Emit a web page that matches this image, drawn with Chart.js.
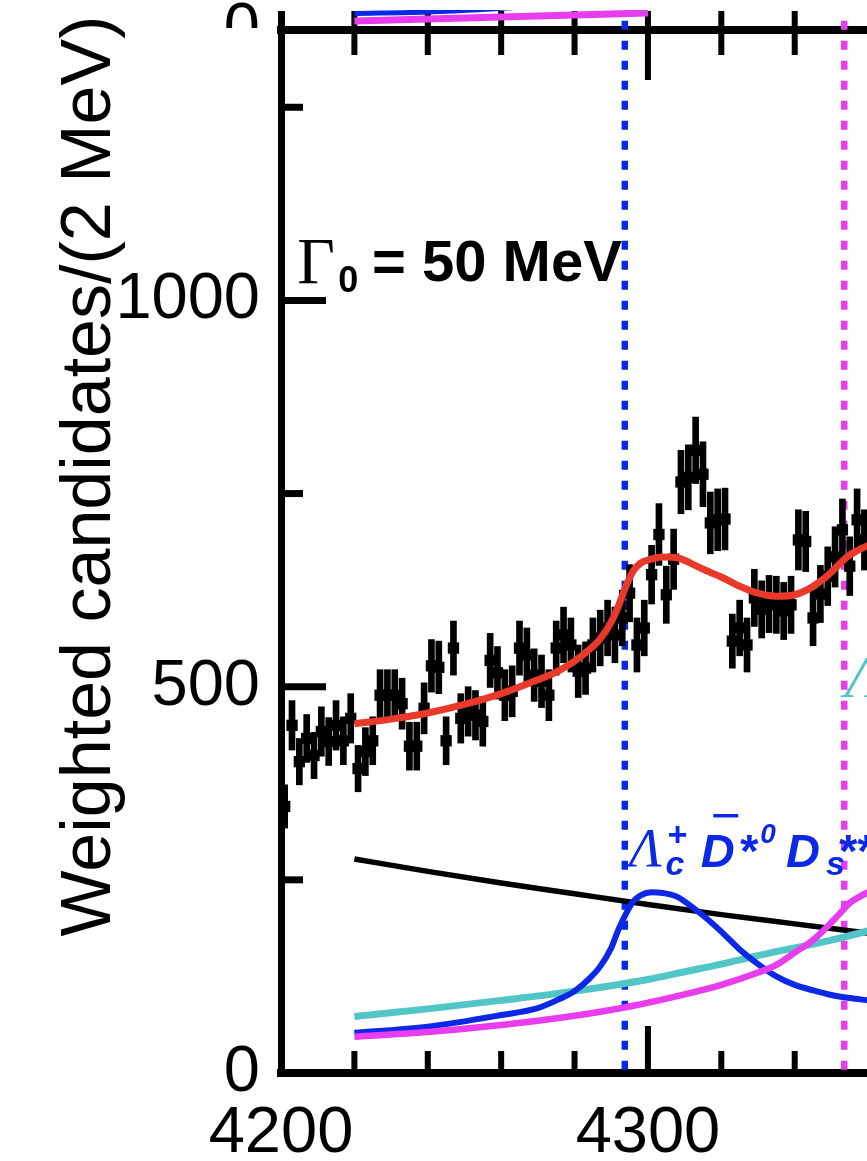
<!DOCTYPE html>
<html>
<head>
<meta charset="utf-8">
<script src="https://cdn.jsdelivr.net/npm/chart.js@4.4.1/dist/chart.umd.min.js"></script>
<style>
  html, body { margin: 0; padding: 0; background: #fff; }
  #wrap { position: relative; width: 867px; height: 1161px; overflow: hidden; }
  #main { position: absolute; left: 0; top: 0; }
  #strip { position: absolute; left: 0; top: 0; width: 867px; height: 28px; overflow: hidden; z-index: 2; }
</style>
</head>
<body>
<div id="wrap">
  <canvas id="main" width="867" height="1161"></canvas>
  <div id="strip"><canvas id="upper" width="867" height="60"></canvas></div>
</div>
<script>
// === Data: weighted candidates per 2 MeV bin ===
const binCenters = [
  4201, 4203, 4205, 4207, 4209, 4211, 4213, 4215, 4217, 4219,
  4221, 4223, 4225, 4227, 4229, 4231, 4233, 4235, 4237, 4239,
  4241, 4243, 4245, 4247, 4249, 4251, 4253, 4255, 4257, 4259,
  4261, 4263, 4265, 4267, 4269, 4271, 4273, 4275, 4277, 4279,
  4281, 4283, 4285, 4287, 4289, 4291, 4293, 4295, 4297, 4299,
  4301, 4303, 4305, 4307, 4309, 4311, 4313, 4315, 4317, 4319,
  4321, 4323, 4325, 4327, 4329, 4331, 4333, 4335, 4337, 4339,
  4341, 4343, 4345, 4347, 4349, 4351, 4353, 4355, 4357, 4359
];
const candidates = [
  345, 450, 403, 433, 411, 442, 429, 450, 430, 459,
  394, 416, 430, 489, 489, 489, 478, 423, 423, 472,
  527, 525, 430, 550, 459, 468, 463, 455, 534, 518,
  489, 494, 550, 541, 515, 507, 489, 550, 567, 554,
  520, 524, 554, 563, 576, 567, 589, 621, 554, 576,
  645, 697, 619, 665, 765, 771, 806, 775, 712, 716,
  717, 559, 576, 554, 615, 600, 607, 606, 598, 606,
  690, 688, 589, 620, 643, 668, 703, 656, 716, 690
];
const errors = [
  28, 32, 30, 31, 30, 32, 31, 32, 31, 32,
  30, 31, 31, 33, 33, 33, 33, 31, 31, 33,
  34, 34, 31, 35, 32, 32, 32, 32, 35, 34,
  33, 33, 35, 35, 34, 34, 33, 35, 36, 35,
  34, 34, 35, 36, 36, 36, 36, 37, 35, 36,
  38, 40, 37, 39, 41, 42, 43, 42, 40, 40,
  40, 35, 36, 35, 37, 37, 37, 37, 37, 37,
  39, 39, 36, 37, 38, 39, 40, 38, 40, 39
];

// axis ticks
const massTicks = [4200, 4220, 4240, 4260, 4280, 4300, 4320, 4340];
const massLabels = [4200, 4300];
const countTicks = [0, 250, 500, 750, 1000, 1250];
const countLabels = [0, 500, 1000];

// === Fit curves ===
const totalMass = [4220, 4230, 4240, 4250, 4260, 4270, 4275, 4280, 4284, 4287, 4290, 4292, 4294, 4296, 4298, 4300, 4304, 4308, 4312, 4316, 4320, 4325, 4330, 4335, 4340, 4344, 4348, 4351, 4354, 4357, 4360];
const totalFit  = [452, 458, 466, 477, 491, 509, 519, 533, 548, 562, 584, 605, 630, 650, 660, 664, 668, 667, 659, 650, 642, 630, 621, 617, 619, 627, 640, 653, 667, 676, 683];

const bkgMass = [4220, 4240, 4260, 4280, 4300, 4320, 4340, 4360];
const bkgFit  = [277, 261, 246, 232, 218, 205, 193, 181];

const cyanMass = [4220, 4240, 4260, 4280, 4300, 4310, 4320, 4330, 4340, 4350, 4360];
const cyanFit  = [73, 83, 94, 106, 121, 131, 141, 152, 162, 172, 184];

const blueMass = [4220, 4240, 4260, 4270, 4276, 4280, 4284, 4287, 4290, 4292, 4294, 4296, 4298, 4301, 4304, 4308, 4312, 4316, 4320, 4325, 4330, 4335, 4340, 4345, 4350, 4355, 4360];
const blueFit  = [52, 60, 75, 84, 96, 106, 122, 138, 162, 186, 206, 222, 230, 234, 233, 228, 215, 200, 183, 160, 141, 125, 114, 107, 101, 97, 94];

const magMass = [4220, 4240, 4260, 4280, 4295, 4312, 4320, 4330, 4335, 4340, 4345, 4349, 4352, 4355, 4358, 4360];
const magFit  = [47, 53, 62, 74, 86, 104, 114, 130, 140, 156, 172, 190, 205, 220, 229, 234];

// thresholds (dotted lines)
const thresholds = [4293.7, 4353.5];

// upper panel (only its bottom edge is visible)
const upperBlueMass = [4220, 4240, 4255, 4270];
const upperBlue     = [16.5, 18, 20.5, 24];
const upperMagMass  = [4220, 4240, 4260, 4280, 4300];
const upperMagenta  = [9, 11, 13, 15, 17];

const BLUE = '#0a28e6';
const MAGENTA = '#e83cef';
const CYAN = '#52c6c6';
const RED = '#e8392a';

const pts = (xs, ys) => xs.map((x, i) => ({ x: x, y: ys[i] }));
const asTicks = values => values.map(v => ({ value: v }));

Chart.defaults.font.family = '"Liberation Sans", Arial, sans-serif';
Chart.defaults.color = '#000';

// === ROOT-style inward ticks ===
const rootTicks = {
    id: 'rootTicks',
    afterDraw(chart) {
        const { ctx, chartArea, scales } = chart;
        const x = scales.x, y = scales.y;
        const seg = (x1, y1, x2, y2) => { ctx.beginPath(); ctx.moveTo(x1, y1); ctx.lineTo(x2, y2); ctx.stroke(); };
        ctx.save();
        ctx.strokeStyle = '#000';
        ctx.lineWidth = 7;
        countTicks.forEach(v => {
            if (v === 0) return;
            const py = y.getPixelForValue(v);
            seg(chartArea.left, py, chartArea.left + (countLabels.includes(v) ? 45 : 22), py);
        });
        ctx.lineWidth = 6;
        massTicks.forEach(v => {
            const px = x.getPixelForValue(v);
            if (px <= chartArea.left + 2 || px >= chartArea.right - 2) return;
            const major = massLabels.includes(v);
            seg(px, chartArea.bottom, px, chartArea.bottom - (major ? 47 : 22));
            seg(px, chartArea.top - 19, px, chartArea.top + (major ? 50 : 25));
        });
        ctx.restore();
    }
};

// === Labels on the plot ===
const plotTexts = {
    id: 'plotTexts',
    afterDraw(chart) {
        const { ctx, scales } = chart;
        const x = scales.x, y = scales.y;
        const put = (str, xv, yv, font, color) => {
            ctx.font = font;
            ctx.fillStyle = color;
            ctx.fillText(str, x.getPixelForValue(xv), y.getPixelForValue(yv));
        };
        ctx.save();
        ctx.textAlign = 'left';
        ctx.textBaseline = 'alphabetic';

        // Gamma_0 = 50 MeV
        put('\u0393', 4204.4, 1023, '65px "Liberation Serif"', '#000');
        put('0', 4215.6, 1011, 'bold 36px "Liberation Sans"', '#000');
        put('= 50 MeV', 4224.8, 1024.5, 'bold 58px "Liberation Sans"', '#000');

        // Lambda_c+ Dbar*0 Ds** (blue)
        put('\u039B', 4294.8, 268, 'italic 55px "Liberation Serif"', BLUE);
        put('+', 4305.2, 294, 'italic bold 34px "Liberation Sans"', BLUE);
        put('c', 4304.8, 256.5, 'italic bold 34px "Liberation Sans"', BLUE);
        put('D', 4314.4, 267, 'italic bold 47px "Liberation Sans"', BLUE);
        put('*', 4324.6, 267, 'italic bold 47px "Liberation Sans"', BLUE);
        put('0', 4330.6, 298, 'italic bold 28px "Liberation Sans"', BLUE);
        put('D', 4337.6, 267, 'italic bold 47px "Liberation Sans"', BLUE);
        put('s', 4348.5, 256.5, 'italic bold 34px "Liberation Sans"', BLUE);
        put('**', 4351.6, 267, 'italic bold 47px "Liberation Sans"', BLUE);
        ctx.strokeStyle = BLUE;
        ctx.lineWidth = 3.5;
        ctx.beginPath();
        ctx.moveTo(x.getPixelForValue(4317.8), y.getPixelForValue(333));
        ctx.lineTo(x.getPixelForValue(4324.6), y.getPixelForValue(333));
        ctx.stroke();

        // cyan label (cut at the edge)
        put('\u039B', 4353.7, 487, 'italic 60px "Liberation Serif"', CYAN);

        // y title
        ctx.translate(110, 476);
        ctx.rotate(-Math.PI / 2);
        ctx.textAlign = 'center';
        ctx.font = '70px "Liberation Sans"';
        ctx.fillStyle = '#000';
        ctx.fillText('Weighted candidates/(2 MeV)', 0, 0);
        ctx.restore();
    }
};

const lineDs = (label, xs, ys, color, width, order) => ({
    type: 'line',
    label: label,
    data: pts(xs, ys),
    borderColor: color,
    borderWidth: width,
    pointRadius: 0,
    fill: false,
    cubicInterpolationMode: 'monotone',
    order: order
});

const thresholdDs = (t, color, order) => ({
    type: 'line',
    data: [{ x: t, y: 1362 }, { x: t, y: 0 }],
    borderColor: color,
    borderWidth: 6.5,
    borderDash: [9, 11],
    pointRadius: 0,
    clip: { left: 0, top: 12, right: 0, bottom: 0 },
    order: order
});

new Chart(document.getElementById('main'), {
    type: 'scatter',
    data: {
        datasets: [
            lineDs('Total fit', totalMass, totalFit, RED, 7, 0),
            {
                type: 'scatter',
                label: 'Data',
                data: pts(binCenters, candidates),
                pointStyle: 'rect',
                pointRadius: 8,
                backgroundColor: '#000',
                borderWidth: 0,
                order: 1
            },
            {
                type: 'bar',
                label: 'Errors',
                data: binCenters.map((m, i) => ({ x: m, y: [candidates[i] - errors[i], candidates[i] + errors[i]] })),
                backgroundColor: '#000',
                barThickness: 6,
                grouped: false,
                order: 2
            },
            lineDs('Magenta', magMass, magFit, MAGENTA, 6.5, 3),
            lineDs('Blue', blueMass, blueFit, BLUE, 6, 4),
            lineDs('Cyan', cyanMass, cyanFit, CYAN, 7, 5),
            lineDs('Background', bkgMass, bkgFit, '#000', 5.5, 6),
            thresholdDs(thresholds[0], BLUE, 7),
            thresholdDs(thresholds[1], MAGENTA, 8)
        ]
    },
    options: {
        responsive: false,
        animation: false,
        layout: { autoPadding: false, padding: 0 },
        plugins: {
            legend: { display: false },
            tooltip: { enabled: false }
        },
        scales: {
            x: {
                type: 'linear',
                position: 'bottom',
                min: 4200,
                max: 4359.7,
                offset: false,
                afterBuildTicks: s => { s.ticks = asTicks(massTicks); },
                afterFit: s => { s.height = 88; s.paddingLeft = 0; s.paddingRight = 0; },
                grid: { display: false },
                border: { display: true, width: 8, color: '#000' },
                ticks: {
                    autoSkip: false,
                    maxRotation: 0,
                    padding: 0,
                    font: { size: 65, lineHeight: 1.63 },
                    callback: v => (massLabels.includes(v) ? String(v) : '')
                }
            },
            x2: {
                type: 'linear',
                position: 'top',
                min: 4200,
                max: 4359.7,
                afterFit: s => { s.height = 30; s.paddingLeft = 0; s.paddingRight = 0; },
                grid: { display: false },
                border: { display: true, width: 8, color: '#000' },
                ticks: { display: false }
            },
            y: {
                min: 0,
                max: 1350,
                afterBuildTicks: s => { s.ticks = asTicks(countTicks); },
                afterFit: s => { s.width = 281; s.paddingTop = 0; s.paddingBottom = 0; },
                grid: { display: false },
                border: { display: true, width: 7, color: '#000' },
                ticks: {
                    padding: 13,
                    font: { size: 65 },
                    callback: v => (countLabels.includes(v) ? String(v) : '')
                }
            }
        }
    },
    plugins: [rootTicks, plotTexts]
});

// === Upper panel strip ===
const upperLine = (xs, ys, color, width, order) => Object.assign(lineDs('', xs, ys, color, width, order), {
    clip: { left: 0, top: 4, right: 0, bottom: 0 }
});

new Chart(document.getElementById('upper'), {
    type: 'scatter',
    data: {
        datasets: [
            upperLine(upperMagMass, upperMagenta, MAGENTA, 7, 0),
            upperLine(upperBlueMass, upperBlue, BLUE, 5, 1)
        ]
    },
    options: {
        responsive: false,
        animation: false,
        layout: { autoPadding: false, padding: { top: 14, bottom: 30, left: 0, right: 0 } },
        plugins: {
            legend: { display: false },
            tooltip: { enabled: false }
        },
        scales: {
            x: { type: 'linear', display: false, min: 4200, max: 4359.7 },
            y: {
                min: 0,
                max: 16,
                afterBuildTicks: s => { s.ticks = asTicks([0]); },
                afterFit: s => { s.width = 281; s.paddingTop = 0; s.paddingBottom = 0; },
                grid: { display: false },
                border: { display: true, width: 7, color: '#000' },
                ticks: {
                    padding: 13,
                    font: { size: 65 },
                    callback: v => (v === 0 ? '0' : '')
                }
            }
        }
    }
});
</script>
</body>
</html>
